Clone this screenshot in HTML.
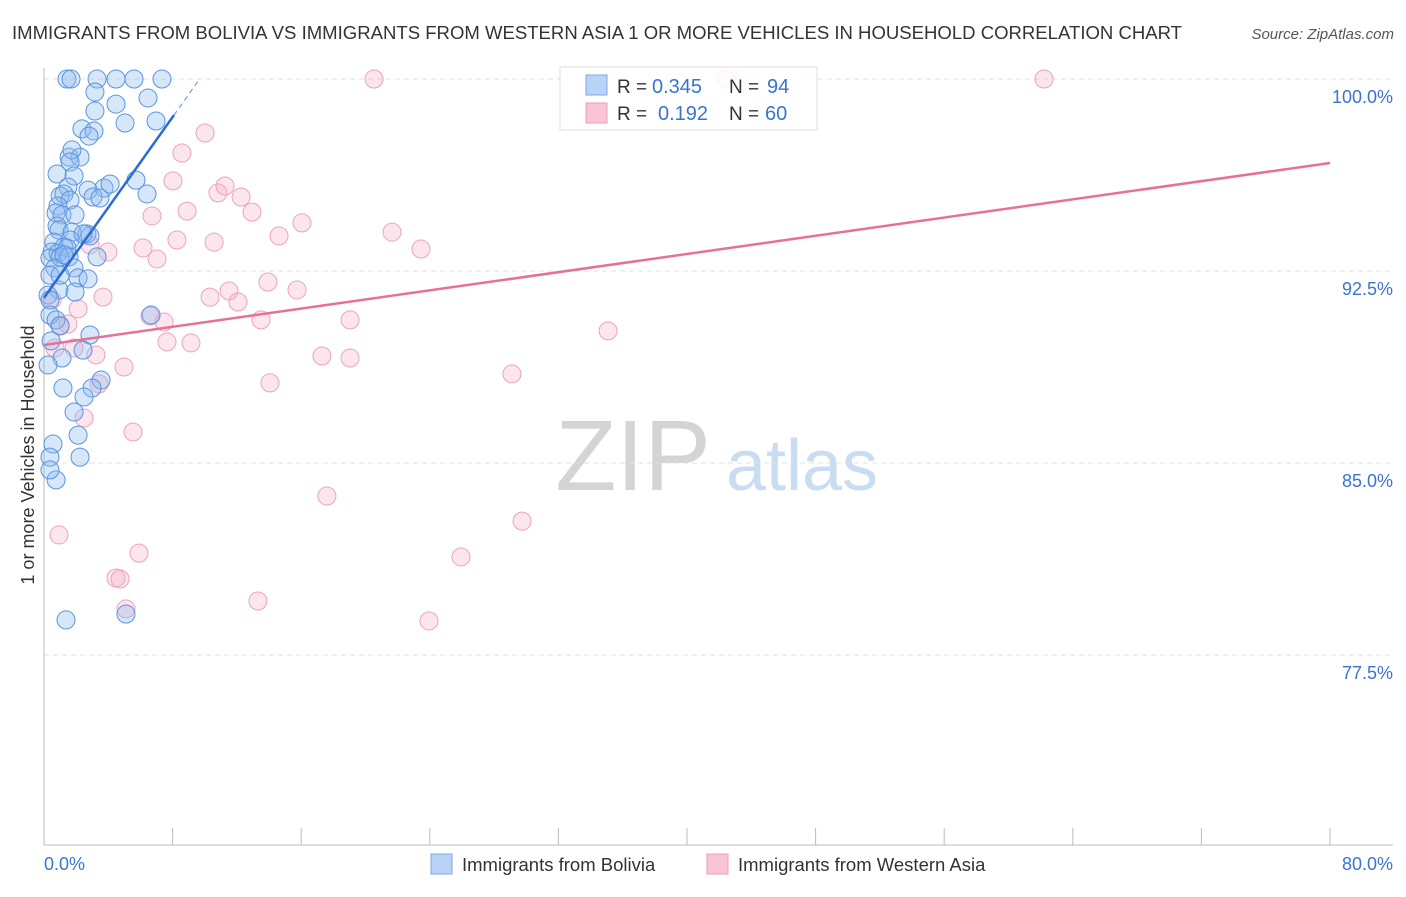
<!DOCTYPE html>
<html><head><meta charset="utf-8"><style>
body{margin:0;background:#fff;font-family:"Liberation Sans",sans-serif;}
svg text{font-family:"Liberation Sans",sans-serif;}
</style></head><body>
<svg id="chart" width="1406" height="892" viewBox="0 0 1406 892" xmlns="http://www.w3.org/2000/svg">
<text x="12" y="39" font-size="18.6" fill="#333" textLength="1170" lengthAdjust="spacingAndGlyphs">IMMIGRANTS FROM BOLIVIA VS IMMIGRANTS FROM WESTERN ASIA 1 OR MORE VEHICLES IN HOUSEHOLD CORRELATION CHART</text>
<text x="1394" y="39" font-size="15" fill="#555" font-style="italic" text-anchor="end">Source: ZipAtlas.com</text>
<g>
<text x="633" y="490" font-size="100" fill="#d4d4d4" font-family="Liberation Serif,serif" text-anchor="middle">ZIP</text>
<text x="802" y="490" font-size="72" fill="#c8dcf2" text-anchor="middle">atlas</text>
</g>
<g id="grid"></g>
<g id="axes"></g>
<g id="marks"></g>
<text transform="translate(34,455) rotate(-90)" font-size="18" fill="#333" text-anchor="middle">1 or more Vehicles in Household</text>
<g>
<rect x="560" y="67" width="257" height="63" fill="rgba(255,255,255,0.85)" stroke="#ddd"/>
<rect x="586" y="75" width="21" height="20" fill="#b8d3f5" stroke="#7aa7e6"/>
<rect x="586" y="103" width="21" height="20" fill="#f9c5d5" stroke="#eba0b8"/>
<text x="617" y="93" font-size="19" fill="#333">R =</text>
<text x="652" y="93" font-size="20" fill="#3a74d0">0.345</text>
<text x="729" y="93" font-size="19" fill="#333">N =</text>
<text x="767" y="93" font-size="20" fill="#3a74d0">94</text>
<text x="617" y="120" font-size="19" fill="#333">R =</text>
<text x="658" y="120" font-size="20" fill="#3a74d0">0.192</text>
<text x="729" y="120" font-size="19" fill="#333">N =</text>
<text x="765" y="120" font-size="20" fill="#3a74d0">60</text>
</g>
<g>
<rect x="431" y="854" width="21" height="20" fill="#b8d3f5" stroke="#7aa7e6"/>
<text x="462" y="871" font-size="18.5" fill="#333">Immigrants from Bolivia</text>
<rect x="707" y="854" width="21" height="20" fill="#f9c5d5" stroke="#eba0b8"/>
<text x="738" y="871" font-size="18.5" fill="#333">Immigrants from Western Asia</text>
</g>
</svg>
<script>
const blueX=[1.43,1.68,3.30,4.48,5.60,7.34,3.17,6.47,4.48,3.17,5.04,6.97,2.36,3.11,2.80,1.56,2.24,1.74,1.62,0.81,1.87,3.73,4.11,5.72,6.41,2.74,1.49,1.00,1.24,3.05,1.62,0.87,0.75,1.12,1.93,0.81,0.93,1.74,2.67,2.86,0.62,1.62,1.24,1.43,0.50,0.87,0.37,1.00,3.30,1.56,1.87,0.68,0.37,2.12,2.74,0.93,1.93,0.25,0.37,0.37,0.75,6.66,1.00,2.86,0.44,2.43,1.12,0.25,3.55,2.99,1.18,2.49,1.87,2.12,0.56,0.37,2.24,0.75,0.37,1.37,5.10,2.43,1.24,1.00,3.48];
const blueY=[100,100,100,100,100,100,99.49,99.26,99.02,98.75,98.28,98.36,98.05,97.97,97.77,96.95,96.95,97.23,96.76,96.29,96.21,95.74,95.90,96.05,95.51,95.66,95.78,95.43,95.51,95.39,95.27,95.04,94.77,94.69,94.69,94.26,94.10,94.02,93.95,93.87,93.63,93.71,93.44,93.40,93.24,93.20,93.01,93.05,93.05,93.05,92.62,92.62,92.34,92.23,92.19,91.76,91.68,91.56,91.37,90.78,90.59,90.78,90.35,90.00,89.77,89.41,89.10,88.83,88.24,87.93,87.93,87.58,86.99,86.09,85.74,85.23,85.23,84.34,84.73,78.87,79.10,93.95,93.13,92.34,95.35];
const pinkX=[20.53,62.21,42.43,10.02,8.58,8.02,10.82,11.26,12.26,8.90,12.94,6.72,16.05,21.65,14.62,23.45,8.27,6.16,10.58,7.03,3.98,2.86,13.93,11.51,15.74,10.33,12.07,3.67,2.12,1.00,1.49,0.50,13.50,19.04,7.47,35.09,7.65,9.14,17.29,19.04,1.87,0.68,4.98,14.06,29.11,3.42,2.49,5.54,17.60,29.74,0.93,5.91,25.94,4.48,4.73,13.31,5.10,23.95,6.59,3.23];
const pinkY=[100,100,100,97.89,97.11,96.02,95.55,95.82,95.39,94.84,94.80,94.65,94.38,94.02,93.87,93.36,93.71,93.40,93.63,92.97,93.24,93.52,92.07,91.72,91.76,91.48,91.29,91.48,91.02,90.39,90.43,91.37,90.59,90.59,90.51,90.16,89.73,89.69,89.18,89.10,89.49,89.49,88.75,88.13,88.48,88.09,86.76,86.21,83.71,82.73,82.19,81.48,81.33,80.51,80.47,79.61,79.30,78.83,90.74,89.22];
const blueTrend=[91.45,0.883];
const pinkTrend=[89.61,96.72];
const yTicks=[100,92.5,85,77.5];
const yTickLabels=["100.0%","92.5%","85.0%","77.5%"];
const xTicks=[0,8,16,24,32,40,48,56,64,72,80];

const NS="http://www.w3.org/2000/svg";
const X0=44,X1=1330,Y100=79,PXPER=192/7.5;
function sx(v){return X0+(v/80)*(X1-X0);}
function sy(v){return Y100+(100-v)*PXPER;}
function mk(tag,attrs,parent){const e=document.createElementNS(NS,tag);for(const k in attrs)e.setAttribute(k,attrs[k]);parent.appendChild(e);return e;}
const grid=document.getElementById('grid'),axes=document.getElementById('axes'),marks=document.getElementById('marks');
yTicks.forEach((t,i)=>{
 const l=mk('line',{x1:X0,x2:1393,y1:sy(t),y2:sy(t),stroke:'#e0e0e0','stroke-dasharray':'5,4'},grid);
 
 
 const tx=mk('text',{x:1393,y:sy(t)+24,'font-size':18,fill:'#3a74d0','text-anchor':'end'},axes);
 tx.textContent=yTickLabels[i];
 
 
});
const ax=mk('line',{x1:X0,x2:1393,y1:845,y2:845,stroke:'#bbb'},axes);


const ay=mk('line',{x1:X0,x2:X0,y1:68,y2:845,stroke:'#bbb'},axes);


xTicks.forEach(t=>{
 const k=mk('line',{x1:sx(t),x2:sx(t),y1:828,y2:845,stroke:'#bbb'},axes);
 
 
});
const xl0=mk('text',{x:44,y:870,'font-size':18,fill:'#3a74d0'},axes);xl0.textContent=xTicks[0].toFixed(1)+'%';


const xl1=mk('text',{x:1393,y:870,'font-size':18,fill:'#3a74d0','text-anchor':'end'},axes);xl1.textContent=xTicks[xTicks.length-1].toFixed(1)+'%';



pinkX.forEach((v,i)=>{
 const c=mk('circle',{cx:sx(v),cy:sy(pinkY[i]),r:9,fill:'rgba(244,170,195,0.3)',stroke:'#eca3bc','stroke-width':1},marks);
 
 
});
blueX.forEach((v,i)=>{
 const c=mk('circle',{cx:sx(v),cy:sy(blueY[i]),r:9,fill:'rgba(140,185,240,0.35)',stroke:'#5b93dc','stroke-width':1},marks);
 
 
});
const xb=(98.59-blueTrend[0])/blueTrend[1], xe=(100-blueTrend[0])/blueTrend[1];
const bl=mk('line',{x1:sx(0),y1:sy(blueTrend[0]),x2:sx(xb),y2:sy(blueTrend[0]+blueTrend[1]*xb),stroke:'#2a6bd6','stroke-width':2.5},marks);


const bd=mk('line',{x1:sx(xb),y1:sy(blueTrend[0]+blueTrend[1]*xb),x2:sx(xe),y2:sy(100),stroke:'#6a9ee6','stroke-width':1.2,'stroke-dasharray':'5,4'},marks);


const pl=mk('line',{x1:sx(0),y1:sy(pinkTrend[0]),x2:sx(80),y2:sy(pinkTrend[1]),stroke:'#e6709a','stroke-width':2.5},marks);


</script>
</body></html>
